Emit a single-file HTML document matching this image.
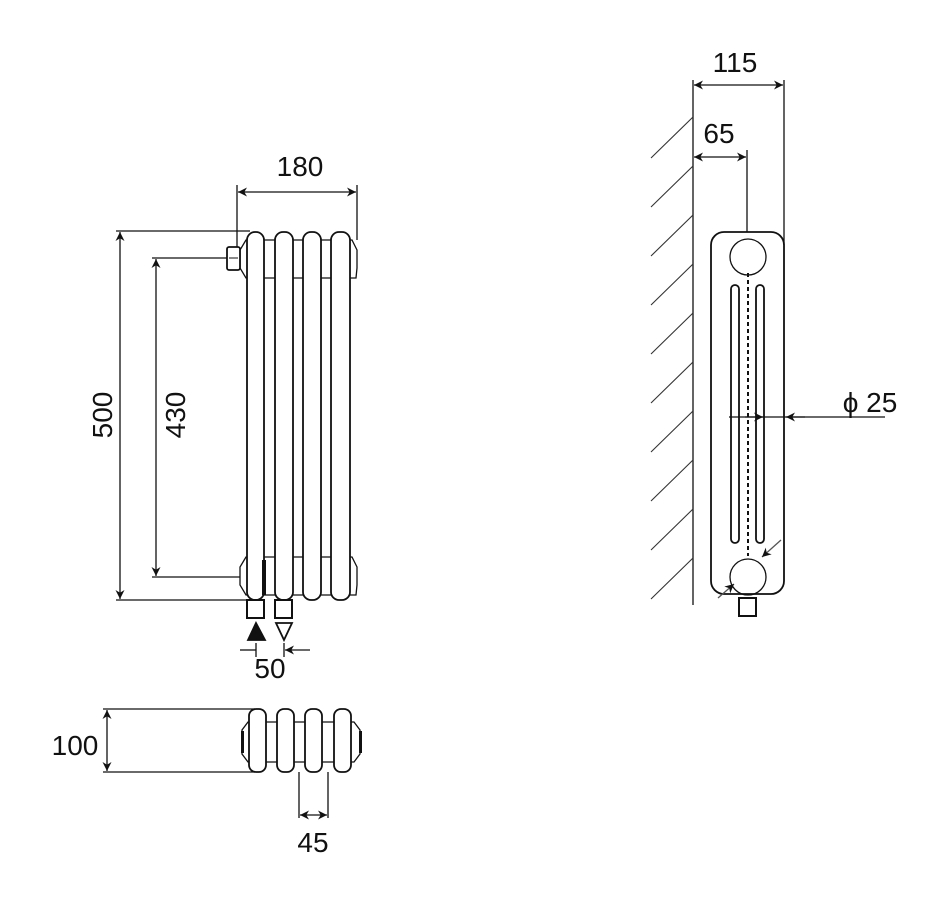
<!DOCTYPE html>
<html><head><meta charset="utf-8"><style>html,body{margin:0;padding:0;background:#fff}svg{display:block}text{font-family:"Liberation Sans",sans-serif;font-size:28px;fill:#111}</style></head><body>
<svg width="950" height="900" viewBox="0 0 950 900" xmlns="http://www.w3.org/2000/svg">
<defs>
<marker id="a" viewBox="0 0 10 10" refX="10" refY="5" markerWidth="9" markerHeight="9" orient="auto-start-reverse" markerUnits="userSpaceOnUse"><path d="M0,0 L10,5 L0,10 L3,5 z" fill="#111"/></marker>
</defs>
<g stroke="#111" stroke-width="1.3" fill="none">
<line x1="237" y1="185" x2="237" y2="250"/><line x1="357" y1="185" x2="357" y2="240"/>
<line x1="238" y1="192" x2="356" y2="192" marker-start="url(#a)" marker-end="url(#a)"/>
<line x1="116" y1="231" x2="250" y2="231"/><line x1="116" y1="600" x2="247" y2="600"/>
<line x1="120" y1="232" x2="120" y2="599" marker-start="url(#a)" marker-end="url(#a)"/>
<line x1="152" y1="258" x2="227" y2="258"/><line x1="152" y1="577" x2="240" y2="577"/>
<line x1="156" y1="259" x2="156" y2="576" marker-start="url(#a)" marker-end="url(#a)"/>
</g>
<g stroke="#111" stroke-width="1.8" fill="#fff">
<path d="M246,240 L240,250 L240,268 L246,278 L356,278 L357,268 L357,250 L352,240 Z" stroke-width="1.3"/>
<path d="M246,557 L240,567 L240,585 L246,595 L356,595 L357,585 L357,567 L352,557 Z" stroke-width="1.3"/>
<rect x="247" y="232" width="17" height="368" rx="8"/>
<rect x="275" y="232" width="18" height="368" rx="8"/>
<rect x="303" y="232" width="18" height="368" rx="8"/>
<rect x="331" y="232" width="19" height="368" rx="8"/>
<rect x="227" y="247" width="13" height="23" rx="2"/>
<line x1="229" y1="258" x2="238" y2="258" stroke-width="1"/>
<rect x="247" y="600" width="17" height="18" stroke-width="2"/>
<rect x="275" y="600" width="17" height="18" stroke-width="2"/>
<path d="M248,640 L256,623 L265,640 Z" fill="#111"/>
<path d="M276,623 L292,623 L284,640 Z"/>
</g>
<rect x="262" y="560" width="4" height="35" fill="#111"/>
<g stroke="#111" stroke-width="1.3" fill="none">
<line x1="240" y1="650" x2="256" y2="650"/><line x1="256" y1="643" x2="256" y2="657"/><line x1="284" y1="643" x2="284" y2="657"/>
<line x1="310" y1="650" x2="285" y2="650" marker-end="url(#a)"/>
<line x1="103" y1="709" x2="255" y2="709"/><line x1="103" y1="772" x2="255" y2="772"/>
<line x1="107" y1="710" x2="107" y2="771" marker-start="url(#a)" marker-end="url(#a)"/>
<line x1="299" y1="772" x2="299" y2="818"/><line x1="328" y1="772" x2="328" y2="818"/>
<line x1="300" y1="815" x2="327" y2="815" marker-start="url(#a)" marker-end="url(#a)"/>
</g>
<g stroke="#111" stroke-width="1.8" fill="#fff">
<path d="M248,722 L242,730 L242,754 L248,762 L354,762 L360,754 L360,730 L354,722 Z" stroke-width="1.3"/>
<rect x="249" y="709" width="17" height="63" rx="7"/>
<rect x="277" y="709" width="17" height="63" rx="7"/>
<rect x="305" y="709" width="17" height="63" rx="7"/>
<rect x="334" y="709" width="17" height="63" rx="7"/>
</g>
<rect x="241" y="731" width="3" height="22" fill="#111"/><rect x="359" y="731" width="3" height="22" fill="#111"/>
<g stroke="#111" stroke-width="1.3" fill="none">
<line x1="693" y1="80" x2="693" y2="605"/>
<line x1="784" y1="80" x2="784" y2="245"/>
<line x1="694" y1="85" x2="783" y2="85" marker-start="url(#a)" marker-end="url(#a)"/>
<line x1="747" y1="150" x2="747" y2="232"/>
<line x1="694" y1="157" x2="746" y2="157" marker-start="url(#a)" marker-end="url(#a)"/>
<g stroke="#333" stroke-width="1.1">
<line x1="693" y1="117" x2="651" y2="158"/><line x1="693" y1="166" x2="651" y2="207"/><line x1="693" y1="215" x2="651" y2="256"/><line x1="693" y1="264" x2="651" y2="305"/><line x1="693" y1="313" x2="651" y2="354"/><line x1="693" y1="362" x2="651" y2="403"/><line x1="693" y1="411" x2="651" y2="452"/><line x1="693" y1="460" x2="651" y2="501"/><line x1="693" y1="509" x2="651" y2="550"/><line x1="693" y1="558" x2="651" y2="599"/>
</g>
<rect x="711" y="232" width="73" height="362" rx="13" stroke-width="1.8"/>
<circle cx="748" cy="257" r="18"/><circle cx="748" cy="577" r="18"/>
<rect x="731" y="285" width="8" height="258" rx="4" stroke-width="1.8"/>
<rect x="756" y="285" width="8" height="258" rx="4" stroke-width="1.8"/>
<line x1="748" y1="273" x2="748" y2="556" stroke-dasharray="4,3" stroke-width="2"/>
<rect x="739" y="598" width="17" height="18" stroke-width="2"/>
<line x1="729" y1="417" x2="885" y2="417"/>
<line x1="745" y1="417" x2="763" y2="417" marker-end="url(#a)"/>
<line x1="805" y1="417" x2="786" y2="417" marker-end="url(#a)"/>
<line x1="781" y1="540" x2="762" y2="557" marker-end="url(#a)" stroke="#555"/>
<line x1="718" y1="598" x2="734" y2="584" marker-end="url(#a)" stroke="#555"/>
</g>
<text x="300" y="176" text-anchor="middle">180</text>
<text transform="translate(112,415) rotate(-90)" text-anchor="middle">500</text>
<text transform="translate(185,415) rotate(-90)" text-anchor="middle">430</text>
<text x="270" y="678" text-anchor="middle">50</text>
<text x="75" y="755" text-anchor="middle">100</text>
<text x="313" y="852" text-anchor="middle">45</text>
<text x="735" y="72" text-anchor="middle">115</text>
<text x="719" y="143" text-anchor="middle">65</text>
<text x="870" y="412" text-anchor="middle">ϕ 25</text>
</svg>
</body></html>
